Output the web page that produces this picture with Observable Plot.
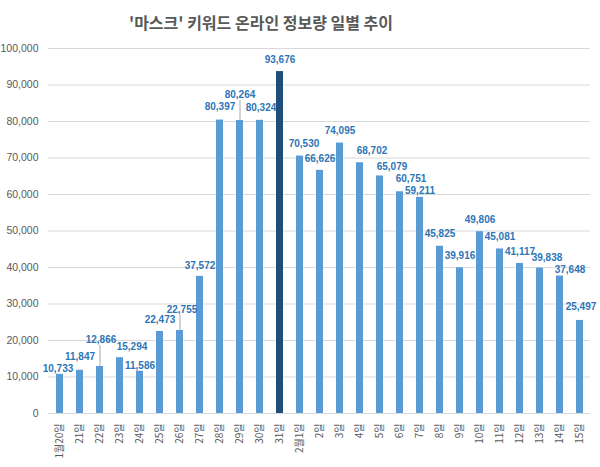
<!DOCTYPE html>
<html>
<head>
<meta charset="utf-8">
<script src="https://cdn.jsdelivr.net/npm/d3@7"></script>
<script src="https://cdn.jsdelivr.net/npm/@observablehq/plot@0.6"></script>
<style>
  html, body { margin: 0; padding: 0; background: #fff; }
  #title { width: 522px; height: 40px; line-height: 44px; text-align: center;
    font-family: "Noto Sans CJK KR", sans-serif; font-weight: bold; font-size: 16px; color: #595959; }
  #chart { width: 600px; }
</style>
</head>
<body>
<div id="title">'마스크' 키워드 온라인 정보량 일별 추이</div>
<div id="chart"></div>
<script>
const days = ["1월20일","21일","22일","23일","24일","25일","26일","27일","28일","29일","30일","31일",
  "2월1일","2일","3일","4일","5일","6일","7일","8일","9일","10일","11일","12일","13일","14일","15일"];
const counts = [10733,11847,12866,15294,11586,22473,22755,37572,80397,80264,80324,93676,
  70530,66626,74095,68702,65079,60751,59211,45825,39916,49806,45081,41117,39838,37648,25497];
const highlightDay = "31일";
const yTicks = [0,10000,20000,30000,40000,50000,60000,70000,80000,90000,100000];

// label placement nudges (px): [dx, dy of label centre above bar top]
const labelNudge = {
  "1월20일": [-2, -6], "21일": [0, -13], "22일": [1, -27], "23일": [12, -11], "24일": [0, -5],
  "25일": [0, -12], "26일": [2, -21], "27일": [0, -11], "28일": [0, -13], "29일": [0, -26],
  "30일": [1, -13], "31일": [0, -12], "2월1일": [4, -12], "4일": [12, -12], "5일": [12, -9],
  "6일": [11, -13], "7일": [0, -7], "13일": [7, -10], "14일": [10, -6], "15일": [1, -14]
};
const leaderDays = ["22일", "26일", "29일"];

const data = days.map((d, i) => {
  const [dx, dy] = labelNudge[d] || [0, -12];
  return {day: d, value: counts[i], dx, dy};
});

const H = 427, mT = 8, mB = 54;
const perPx = 100000 / (H - mT - mB);

const chart = Plot.plot({
  width: 600,
  height: H,
  marginTop: mT,
  marginBottom: mB,
  marginLeft: 48,
  marginRight: 10,
  style: {fontFamily: "Liberation Sans, Arial, sans-serif", background: "#fff"},
  x: {domain: days, paddingInner: 0.67, paddingOuter: 0.335, label: null},
  y: {domain: [0, 100000], label: null},
  marks: [
    Plot.gridY(yTicks, {stroke: "#D9D9D9", strokeOpacity: 1}),
    Plot.axisY(yTicks, {tickSize: 0, tickPadding: 10, tickFormat: d3.format(","), fill: "#595959", fontSize: 10.5, label: null}),
    Plot.axisX({tickSize: 0, tickPadding: 10, tickRotate: -90, fill: "#595959", fontSize: 10,
      fontFamily: "Noto Sans CJK KR, sans-serif", label: null}),
    Plot.barY(data, {x: "day", y: "value", fill: d => d.day === highlightDay ? "#1F4E79" : "#5B9BD5"}),
    Plot.ruleX(data.filter(d => leaderDays.includes(d.day)), {
      x: "day", y1: "value", y2: d => d.value + (Math.abs(d.dy) - 6) * perPx,
      stroke: "#A6A6A6", strokeWidth: 1
    }),
    ...data.map(d => Plot.text([d], {
      x: "day", y: "value", text: v => d3.format(",")(v.value),
      dx: d.dx, dy: d.dy, fill: "#2E75B6", fontWeight: "bold", fontSize: 10
    }))
  ]
});
document.getElementById("chart").appendChild(chart);
</script>
</body>
</html>
